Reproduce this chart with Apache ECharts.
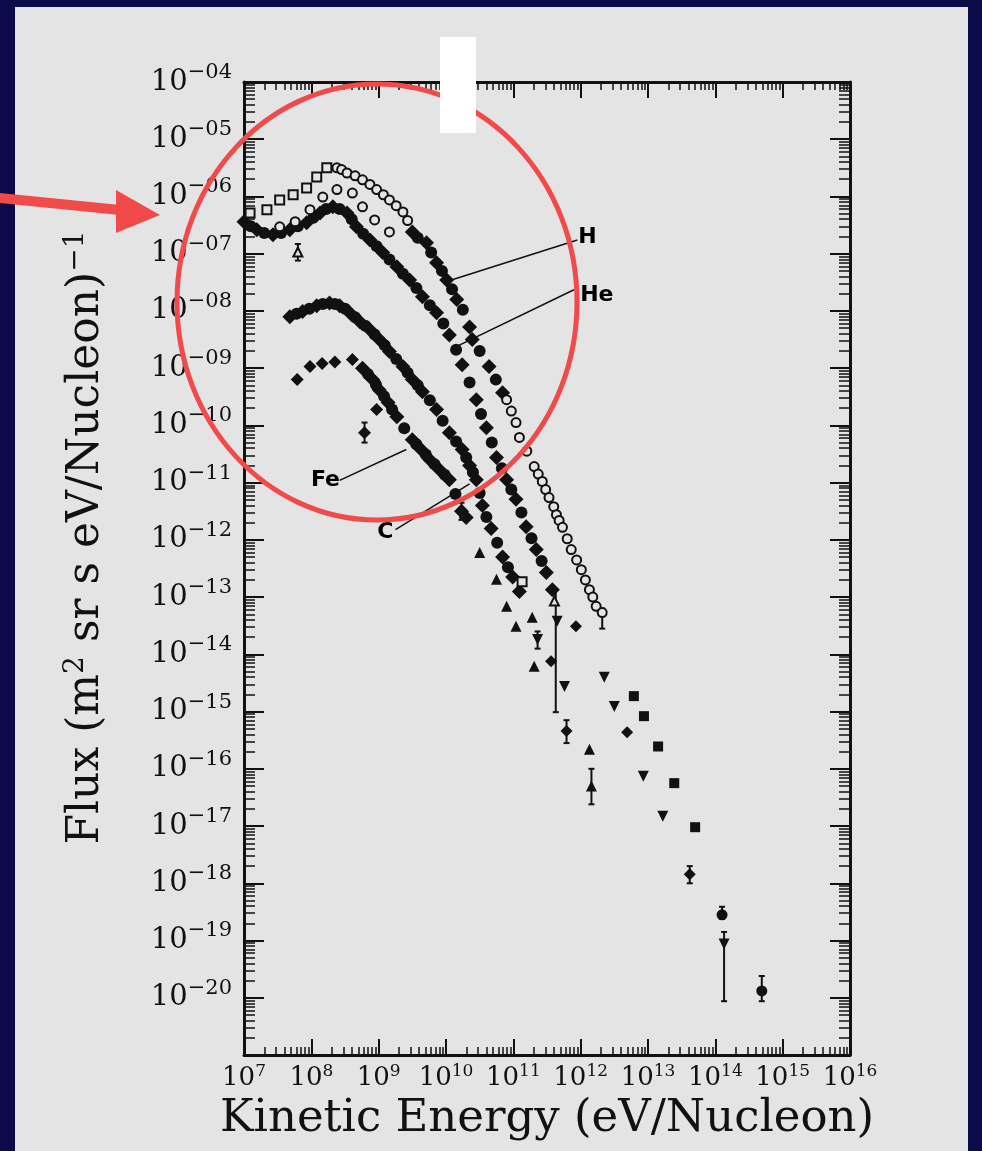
<!DOCTYPE html>
<html>
<head>
<meta charset="utf-8">
<title>Cosmic ray flux vs kinetic energy</title>
<script src="https://cdn.jsdelivr.net/npm/echarts@6/dist/echarts.min.js"></script>
<style>
  html, body { margin: 0; padding: 0; background: #0b0b4a; }
  #chart { width: 982px; height: 1151px; }
</style>
</head>
<body>
<div id="chart"></div>
<script>
// every point is [log10(E / eV per nucleon), log10(flux)]
const hSquares = [[7.09,-6.29],[7.34,-6.23],[7.53,-6.06],[7.73,-5.97],[7.93,-5.85],[8.08,-5.66],[8.23,-5.50]];
const hCirclesLow = [[8.38,-5.50],[8.45,-5.53],[8.53,-5.59],[8.65,-5.64],[8.76,-5.71],[8.87,-5.79],[8.97,-5.88],[9.07,-5.97],[9.16,-6.06],[9.26,-6.16],[9.36,-6.27],[9.43,-6.42]];
const hFilled = [[9.50,-6.62],[9.71,-6.81],[9.86,-7.16],[10.01,-7.46],[10.16,-7.80],[10.35,-8.28],[10.39,-8.50],[10.64,-8.97],[10.84,-9.43]];
const hFilled2 = [[9.58,-6.72],[9.78,-6.98],[9.94,-7.30],[10.09,-7.62],[10.25,-7.98],[10.50,-8.70],[10.74,-9.20]];
const hCirclesHigh = [[10.90,-9.55],[10.97,-9.75],[11.04,-9.95],[11.09,-10.21],[11.20,-10.45],[11.31,-10.72],[11.37,-10.85],[11.43,-10.98],[11.48,-11.12],[11.53,-11.26],[11.60,-11.42],[11.64,-11.56],[11.68,-11.66],[11.73,-11.78],[11.80,-11.98],[11.86,-12.17],[11.94,-12.35],[12.01,-12.52],[12.07,-12.70],[12.13,-12.87],[12.18,-13.00],[12.23,-13.16],[12.32,-13.27]];
const hSolarMax = [[7.53,-6.53],[7.76,-6.44],[7.98,-6.23],[8.17,-6.01],[8.38,-5.88],[8.61,-5.94],[8.76,-6.18],[8.94,-6.41],[9.16,-6.62]];
const heBand = [[7.00,-6.44],[7.19,-6.58],[7.43,-6.67],[7.68,-6.58],[7.93,-6.46],[8.13,-6.29],[8.32,-6.18],[8.53,-6.29],[8.67,-6.53],[8.87,-6.76],[9.06,-6.98],[9.27,-7.23],[9.46,-7.46],[9.65,-7.75],[9.86,-8.03],[10.05,-8.42],[10.24,-8.94],[10.45,-9.55],[10.60,-10.04],[10.75,-10.56],[10.90,-10.95],[11.04,-11.29],[11.19,-11.77],[11.34,-12.17],[11.49,-12.57],[11.58,-12.87]];
const heBand2 = [[7.10,-6.52],[7.30,-6.64],[7.55,-6.64],[7.80,-6.52],[8.03,-6.37],[8.22,-6.22],[8.42,-6.22],[8.60,-6.40],[8.77,-6.65],[8.97,-6.87],[9.16,-7.10],[9.36,-7.35],[9.56,-7.60],[9.76,-7.90],[9.96,-8.22],[10.15,-8.68],[10.35,-9.25],[10.52,-9.80],[10.68,-10.30],[10.83,-10.75],[10.97,-11.12],[11.12,-11.52],[11.27,-11.97],[11.42,-12.37]];
const heCircles = [[11.61,-13.07],[7.80,-6.97]];
const cBand = [[7.68,-8.10],[7.87,-8.01],[8.08,-7.91],[8.27,-7.86],[8.42,-7.91],[8.57,-8.03],[8.72,-8.19],[8.87,-8.33],[9.01,-8.50],[9.16,-8.71],[9.36,-8.97],[9.50,-9.20],[9.65,-9.41],[9.86,-9.72],[10.05,-10.13],[10.24,-10.42],[10.35,-10.70],[10.45,-10.95],[10.54,-11.40],[10.67,-11.80],[10.84,-12.30],[10.99,-12.65],[11.09,-12.90]];
const cBand2 = [[7.78,-8.05],[7.97,-7.96],[8.17,-7.88],[8.35,-7.88],[8.50,-7.96],[8.65,-8.11],[8.80,-8.26],[8.94,-8.41],[9.09,-8.60],[9.26,-8.84],[9.43,-9.08],[9.58,-9.30],[9.76,-9.56],[9.95,-9.92],[10.15,-10.28],[10.30,-10.56],[10.40,-10.82],[10.50,-11.18],[10.60,-11.60],[10.76,-12.05],[10.92,-12.48]];
const cSquares = [[11.13,-12.73]];
const feLow = [[7.79,-9.20],[7.98,-8.97],[8.16,-8.92],[8.35,-8.89],[8.61,-8.85],[8.97,-9.72],[8.79,-10.13]];
const feBand = [[8.76,-9.00],[8.91,-9.20],[9.01,-9.38],[9.14,-9.60],[9.27,-9.85],[9.50,-10.25],[9.63,-10.42],[9.76,-10.60],[9.90,-10.77],[10.05,-10.95],[10.23,-11.50],[10.30,-11.61]];
const feBand2 = [[8.84,-9.10],[8.96,-9.29],[9.08,-9.49],[9.20,-9.72],[9.38,-10.05],[9.56,-10.33],[9.70,-10.51],[9.83,-10.68],[9.98,-10.86],[10.14,-11.20]];
const triUp = [[10.50,-12.22],[10.75,-12.69],[10.90,-13.16],[11.04,-13.51],[11.28,-13.35],[11.31,-14.21],[12.13,-15.66],[12.16,-16.30]];
const triDown = [[11.36,-13.74],[11.65,-13.42],[11.76,-14.56],[12.35,-14.40],[12.50,-14.91],[12.93,-16.13],[13.22,-16.83],[14.13,-19.06]];
const diamonds = [[11.56,-14.12],[11.93,-13.51],[11.79,-15.34],[12.69,-15.36],[13.62,-17.84]];
const squaresHigh = [[12.79,-14.73],[12.94,-15.08],[13.15,-15.61],[13.39,-16.25],[13.70,-17.02]];
const dotsHigh = [[14.10,-18.55],[14.69,-19.88]];
// [log10 E, log10 flux low, log10 flux high]
const errorBars = [[7.80,-7.12,-6.83],[8.79,-10.30,-9.95],[10.23,-11.65,-11.35],[11.63,-15.01,-12.87],[11.36,-13.90,-13.60],[11.79,-15.55,-15.15],[12.16,-16.62,-16.00],[12.32,-13.55,-13.20],[13.62,-18.00,-17.70],[14.10,-18.62,-18.41],[14.13,-20.06,-18.85],[14.69,-20.06,-19.62]];
// element tags and their pointer lines [x1, y1, x2, y2]
const tagNames = ['H', 'He', 'Fe', 'C'];
const tagPoints = [[12.10,-6.71],[12.24,-7.72],[8.21,-10.95],[9.10,-11.87]];
const tagLines = [[11.95,-6.76,10.08,-7.46],[11.90,-7.63,10.16,-8.62],[8.42,-10.96,9.41,-10.42],[9.25,-11.82,10.35,-11.02]];

const INK = '#111';
const PANEL = '#e4e4e4';
const RED = '#f04a4a';
const SERIF = '"DejaVu Serif", serif';

const minorX = [];
for (let n = 7; n < 16; n++) for (let k = 2; k <= 9; k++) minorX.push(n + Math.log10(k));
const minorY = [];
for (let n = -21; n < -4; n++) for (let k = 2; k <= 9; k++) minorY.push(n + Math.log10(k));

function scatter(name, data, symbol, size, filled, rotate) {
  return {
    name, type: 'scatter', data, symbol, symbolSize: size, symbolRotate: rotate || 0,
    itemStyle: { color: filled ? INK : PANEL, borderColor: INK, borderWidth: filled ? 0 : 2, opacity: 1 },
    z: filled ? 5 : 6
  };
}

const xLabel = {
  margin: 8,
  formatter: (v) => '{b|10}{s|' + v + '}',
  rich: {
    b: { fontFamily: SERIF, fontSize: 26, color: INK },
    s: { fontFamily: SERIF, fontSize: 17, color: INK, padding: [0, 0, 14, 0] }
  }
};
const yLabel = {
  margin: 12,
  formatter: (v) => {
    if (v === -21) return '';
    const e = -v;
    return '{b|10}{s|\u2212' + (e < 10 ? '0' + e : e) + '}';
  },
  rich: {
    b: { fontFamily: SERIF, fontSize: 29, color: INK },
    s: { fontFamily: SERIF, fontSize: 21, color: INK, padding: [0, 0, 19, 0] }
  }
};

function xAxis(position, major) {
  return {
    type: 'value', min: 7, max: 16, interval: 1, position,
    axisLine: { show: major, onZero: false, lineStyle: { color: INK, width: 3 } },
    axisTick: major
      ? { inside: true, length: 16, lineStyle: { color: INK, width: 2 } }
      : { inside: true, length: 8, customValues: minorX, lineStyle: { color: INK, width: 1.5 } },
    axisLabel: major && position === 'bottom' ? xLabel : { show: false },
    splitLine: { show: false }
  };
}
function yAxis(position, major) {
  return {
    type: 'value', min: -21, max: -4, interval: 1, position,
    axisLine: { show: major, onZero: false, lineStyle: { color: INK, width: 3 } },
    axisTick: major
      ? { inside: true, length: 20, lineStyle: { color: INK, width: 2 } }
      : { inside: true, length: 11, customValues: minorY, lineStyle: { color: INK, width: 1.5 } },
    axisLabel: major && position === 'left' ? yLabel : { show: false },
    splitLine: { show: false }
  };
}

const xAxes = [xAxis('bottom', true), xAxis('top', true), xAxis('bottom', false), xAxis('top', false)];
xAxes[0].name = 'Kinetic Energy (eV/Nucleon)';
xAxes[0].nameLocation = 'middle';
xAxes[0].nameGap = 31;
xAxes[0].nameTextStyle = { fontFamily: SERIF, fontSize: 45, color: INK };

const yAxes = [yAxis('left', true), yAxis('right', true), yAxis('left', false), yAxis('right', false)];
yAxes[0].name = 'Flux (m{sup|2} sr s eV/Nucleon){sup|\u22121}';
yAxes[0].nameLocation = 'middle';
yAxes[0].nameRotate = 90;
yAxes[0].nameGap = 132;
yAxes[0].nameTextStyle = {
  fontFamily: SERIF, fontSize: 44, color: INK, padding: [0, 0, 0, 62],
  rich: { sup: { fontFamily: SERIF, fontSize: 28, color: INK, padding: [0, 0, 22, 0] } }
};

const chart = echarts.init(document.getElementById('chart'));
chart.setOption({
  animation: false,
  backgroundColor: '#0b0b4a',
  grid: { left: 244, top: 82, right: 132, bottom: 96 },
  xAxis: xAxes,
  yAxis: yAxes,
  graphic: [
    { type: 'rect', z: -10, silent: true, shape: { x: 15, y: 7, width: 953, height: 1144 }, style: { fill: PANEL } },
    { type: 'ellipse', z: 100, silent: true, shape: { cx: 377, cy: 302, rx: 200, ry: 218 }, style: { fill: 'none', stroke: RED, lineWidth: 5 } },
    { type: 'rect', z: 101, silent: true, shape: { x: 440, y: 37, width: 36, height: 96 }, style: { fill: '#fff' } },
    { type: 'polygon', z: 100, silent: true, shape: { points: [[0, 193], [120, 205], [120, 215], [0, 203]] }, style: { fill: RED } },
    { type: 'polygon', z: 100, silent: true, shape: { points: [[116, 190], [160, 215], [116, 233]] }, style: { fill: RED } }
  ],
  series: [
    {
      type: 'custom', name: 'error bars', data: errorBars, z: 4,
      encode: { x: 0, y: [1, 2] },
      renderItem: (params, api) => {
        const x = api.value(0);
        const a = api.coord([x, api.value(1)]);
        const b = api.coord([x, api.value(2)]);
        const st = { stroke: INK, lineWidth: 2 };
        return {
          type: 'group',
          children: [
            { type: 'line', shape: { x1: a[0], y1: a[1], x2: b[0], y2: b[1] }, style: st },
            { type: 'line', shape: { x1: a[0] - 3, y1: a[1], x2: a[0] + 3, y2: a[1] }, style: st },
            { type: 'line', shape: { x1: b[0] - 3, y1: b[1], x2: b[0] + 3, y2: b[1] }, style: st }
          ]
        };
      }
    },
    scatter('H', hSquares, 'rect', 9, false),
    scatter('H', hCirclesLow, 'circle', 9, false),
    scatter('H', hFilled, 'diamond', 15, true),
    scatter('H', hFilled2, 'circle', 12, true),
    scatter('H', hCirclesHigh, 'circle', 9, false),
    scatter('H (solar max)', hSolarMax, 'circle', 9, false),
    scatter('He', heBand, 'diamond', 15, true),
    scatter('He', heBand2, 'circle', 12, true),
    scatter('He', heCircles, 'triangle', 9, false),
    scatter('C', cBand, 'diamond', 15, true),
    scatter('C', cBand2, 'circle', 12, true),
    scatter('C', cSquares, 'rect', 9, false),
    scatter('Fe', feLow, 'diamond', 13, true),
    scatter('Fe', feBand, 'diamond', 15, true),
    scatter('Fe', feBand2, 'circle', 12, true),
    scatter('high energy', triUp, 'triangle', 11, true),
    scatter('high energy', triDown, 'triangle', 11, true, 180),
    scatter('high energy', diamonds, 'diamond', 12, true),
    scatter('high energy', squaresHigh, 'rect', 10, true),
    scatter('high energy', dotsHigh, 'circle', 11, true),
    {
      type: 'scatter', name: 'tags', z: 7, symbolSize: 0,
      itemStyle: { color: INK, opacity: 1 },
      data: tagNames.map((n, i) => ({ name: n, value: tagPoints[i] })),
      label: {
        show: true, position: [0, 0], align: 'center', verticalAlign: 'middle',
        formatter: '{b}', color: '#000', opacity: 1, textBorderWidth: 0,
        fontFamily: '"DejaVu Sans", sans-serif', fontSize: 22, fontWeight: 'bold'
      },
      markLine: {
        silent: true, animation: false,
        symbol: ['none', 'arrow'], symbolSize: [0, 9],
        lineStyle: { color: INK, width: 1.5, type: 'solid' },
        label: { show: false },
        data: tagLines.map((l) => [{ coord: [l[0], l[1]] }, { coord: [l[2], l[3]] }])
      }
    }
  ]
});
</script>
</body>
</html>
